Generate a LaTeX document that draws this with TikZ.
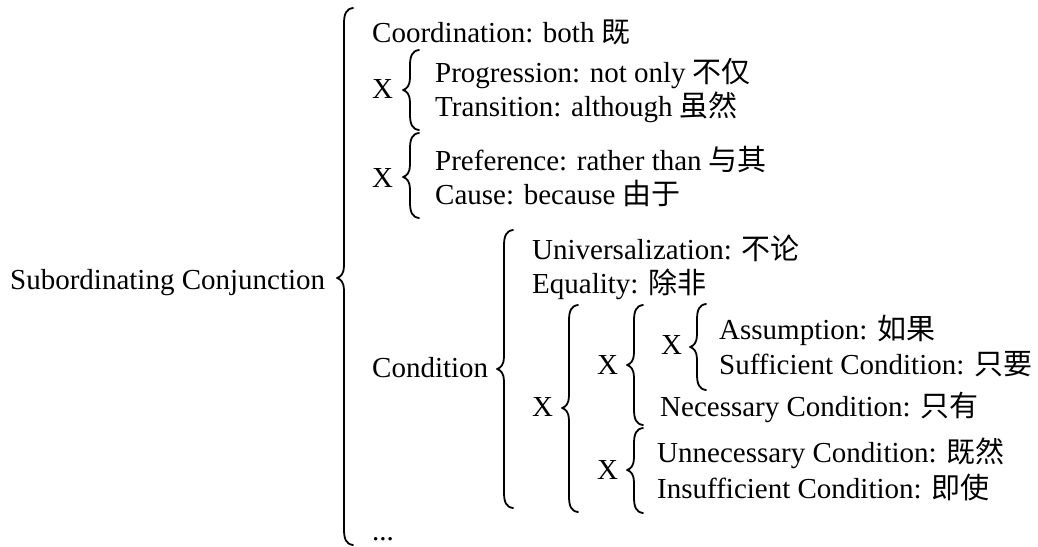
\documentclass[tikz,border=0pt]{standalone}
\usepackage{fontspec}
\setmainfont{Liberation Serif}
\newfontfamily\cjk{Noto Sans CJK SC}
\newcommand\zhtext[1]{{\cjk #1}}
% left curly brace: vertical stroke at x, from top to bottom, tip at tipy;
% thin hooks, heavier straight runs
\newcommand\curlybrace[4]{%
  \draw[bracestroke]
    (#1+9,#2) .. controls (#1+2,#2+1) and (#1,#2+6) .. (#1,#2+16)
    -- (#1,#4-12) .. controls (#1,#4-5) and (#1-3,#4-1) .. (#1-7,#4)
    .. controls (#1-3,#4+1) and (#1,#4+5) .. (#1,#4+12)
    -- (#1,#3-16) .. controls (#1,#3-6) and (#1+2,#3-1) .. (#1+9,#3);
  \draw[bracerun] (#1,#2+12) -- (#1,#4-12) (#1,#4+12) -- (#1,#3-12);}
\begin{document}
\begin{tikzpicture}[x=1pt,y=-1pt,
  lbl/.style={anchor=base west,inner sep=0pt,font=\fontsize{29pt}{34pt}\selectfont},
  bracestroke/.style={line width=1.8pt,line cap=round,line join=round},
  bracerun/.style={line width=2.6pt}]
\useasboundingbox (0,0) rectangle (1038,546);
% labels
\node[lbl] (root)   at (10,289)  {Subordinating Conjunction};
\node[lbl] (coord)  at (372,42)  {Coordination: both \zhtext{既}};
\node[lbl] (xa)     at (372,98)  {X};
\node[lbl] (prog)   at (435,82)  {Progression: not only \zhtext{不仅}};
\node[lbl] (trans)  at (435,116) {Transition: although \zhtext{虽然}};
\node[lbl] (xb)     at (372,187) {X};
\node[lbl] (pref)   at (435,170) {Preference: rather than \zhtext{与其}};
\node[lbl] (cause)  at (435,204) {Cause: because \zhtext{由于}};
\node[lbl] (cond)   at (372,377) {Condition};
\node[lbl] (univ)   at (532,259) {Universalization: \zhtext{不论}};
\node[lbl] (equal)  at (532,293) {Equality: \zhtext{除非}};
\node[lbl] (xc)     at (532,416) {X};
\node[lbl] (xd)     at (597,374) {X};
\node[lbl] (xe)     at (661,354) {X};
\node[lbl] (assum)  at (719,339) {Assumption: \zhtext{如果}};
\node[lbl] (suff)   at (719,374) {Sufficient Condition: \zhtext{只要}};
\node[lbl] (nec)    at (660,416) {Necessary Condition: \zhtext{只有}};
\node[lbl] (xf)     at (597,479) {X};
\node[lbl] (unnec)  at (657,462) {Unnecessary Condition: \zhtext{既然}};
\node[lbl] (insuff) at (657,498) {Insufficient Condition: \zhtext{即使}};
\node[lbl] (dots)   at (372,540) {...};
% braces
\curlybrace{344}{8}{545}{278}
\curlybrace{410}{50}{130}{90}
\curlybrace{410}{133}{218}{177}
\curlybrace{504}{230}{508}{369}
\curlybrace{569}{305}{512}{408}
\curlybrace{634}{305}{425}{365}
\curlybrace{697}{304}{390}{347}
\curlybrace{634}{428}{513}{470}
\end{tikzpicture}
\end{document}
